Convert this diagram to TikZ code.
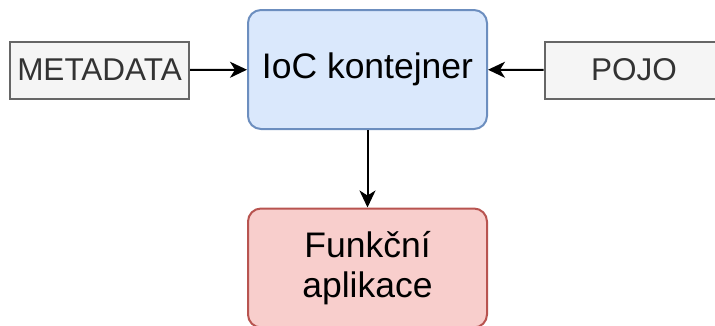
\documentclass[tikz,border=0pt]{standalone}
\usepackage{fontspec}
\setmainfont{Liberation Sans}
\usetikzlibrary{arrows.meta}
\definecolor{grayfill}{HTML}{F5F5F5}
\definecolor{graystroke}{HTML}{666666}
\definecolor{graytext}{HTML}{333333}
\definecolor{bluefill}{HTML}{DAE8FC}
\definecolor{bluestroke}{HTML}{6C8EBF}
\definecolor{redfill}{HTML}{F8CECC}
\definecolor{redstroke}{HTML}{B85450}
\begin{document}
\begin{tikzpicture}[x=1pt,y=-1pt,
  plainbox/.style={draw=graystroke,fill=grayfill,line width=2pt,
    minimum width=179pt,minimum height=57pt,inner sep=0pt,
    text=graytext,font=\fontsize{31.5}{36}\selectfont},
  mainbox/.style={draw=#1stroke,fill=#1fill,line width=2pt,rounded corners=13pt,
    minimum width=239pt,minimum height=119pt,inner sep=0pt,align=center,
    font=\fontsize{35.5}{40}\selectfont},
  conn/.style={line width=2pt,-{Stealth[length=17pt,width=16pt,inset=5pt]}}]
\useasboundingbox (0,0) rectangle (715,325);
\node[mainbox=blue] (ioc) at (367.5,69.5) {IoC kontejner};
\node[mainbox=red] (app) at (367.5,268) {Funkční\\aplikace};
\node[plainbox] (meta) at (99.5,70) {METADATA};
\node[plainbox] (pojo) at (634,70) {POJO};
\draw[conn] (meta) -- (ioc);
\draw[conn] (pojo) -- (ioc);
\draw[conn] (ioc) -- (app);
\end{tikzpicture}
\end{document}
